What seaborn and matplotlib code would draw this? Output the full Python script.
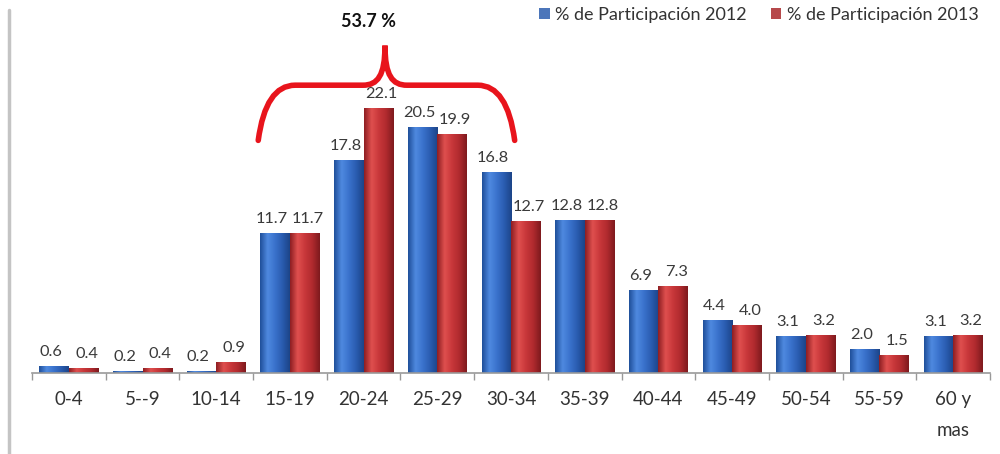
import matplotlib.pyplot as plt
import numpy as np
import seaborn as sns
import pandas as pd
from matplotlib.path import Path
from matplotlib.patches import PathPatch
from matplotlib.colors import LinearSegmentedColormap

grupos = ['0-4', '5--9', '10-14', '15-19', '20-24', '25-29', '30-34',
          '35-39', '40-44', '45-49', '50-54', '55-59', '60 y\nmas']
part_2012 = [0.6, 0.2, 0.2, 11.7, 17.8, 20.5, 16.8, 12.8, 6.9, 4.4, 3.1, 2.0, 3.1]
part_2013 = [0.4, 0.4, 0.9, 11.7, 22.1, 19.9, 12.7, 12.8, 7.3, 4.0, 3.2, 1.5, 3.2]
series = ['% de Participación 2012', '% de Participación 2013']

df = pd.DataFrame({
    'grupo': grupos * 2,
    'valor': part_2012 + part_2013,
    'serie': [series[0]] * len(grupos) + [series[1]] * len(grupos),
})

sns.set_style('white')
plt.rcParams['font.family'] = ['Lato', 'DejaVu Sans']

fig = plt.figure(figsize=(10, 4.54), dpi=100)
ax = fig.add_axes([0.032, 0.178, 0.958, 0.822])

colores = {series[0]: '#3a72cc', series[1]: '#c8373a'}
sns.barplot(data=df, x='grupo', y='valor', hue='serie', palette=colores,
            width=0.8, gap=0, ax=ax, edgecolor='none', linewidth=0)

# degradado horizontal en cada barra (look tipo Excel)
grads = {
    series[0]: ['#1f4f9a', '#4f8ae0', '#3a72cc', '#2a5cb0', '#1c4488'],
    series[1]: ['#8e1e22', '#e0504f', '#c8373a', '#b02a2e', '#7e1a1e'],
}
shift = {series[0]: -2.2, series[1]: 2.2}
for cont, serie in zip(ax.containers, series):
    cmap = LinearSegmentedColormap.from_list(serie, grads[serie])
    grad = np.linspace(0, 1, 64).reshape(1, -1)
    for bar in cont:
        x0, y0 = bar.get_x(), bar.get_y()
        w, h = bar.get_width(), bar.get_height()
        bar.set_facecolor('none')
        im = ax.imshow(grad, extent=[x0, x0 + w, y0, y0 + h], aspect='auto',
                       cmap=cmap, zorder=2, interpolation='bicubic')
        im.set_clip_path(bar)
    anns = ax.bar_label(cont, fmt='%.1f', padding=5, fontsize=11.8, color='#3a3a3a')
    for a in anns:
        a.xyann = (shift[serie], a.xyann[1])

ax.set_xlim(-0.5, 12.5)
ax.set_ylim(0, 31.1)
ax.set_xlabel('')
ax.set_ylabel('')
ax.set_yticks([])
sns.despine(ax=ax, left=True, top=True, right=True)
ax.spines['bottom'].set_color('#999999')
ax.spines['bottom'].set_linewidth(1.2)
ax.set_xticks(np.arange(-0.5, 13, 1), minor=True)
ax.tick_params(axis='x', which='minor', bottom=True, length=5, color='#999999', width=1)
ax.tick_params(axis='x', which='major', bottom=False, labelsize=13.5,
               labelcolor='#333333', pad=9)
for lbl in ax.get_xticklabels():
    lbl.set_verticalalignment('top')
    lbl.set_linespacing(2.0)

ax.legend(loc='upper right', bbox_to_anchor=(1.005, 1.025), ncol=2, frameon=False,
          fontsize=13, handlelength=0.6, handleheight=0.6, handletextpad=0.3,
          columnspacing=1.3, labelcolor='#333333')

# llave roja sobre 15-34
xl, xr, xm = 2.57, 6.05, 4.29
yb, yh, yp = 19.4, 24.0, 27.3
verts = [(xl, yb), (xl + 0.1, yh), (xl + 0.5, yh),
         (xm - 0.3, yh),
         (xm - 0.1, yh), (xm, yh + 0.8), (xm, yp),
         (xm, yh + 0.8), (xm + 0.1, yh), (xm + 0.3, yh),
         (xr - 0.5, yh),
         (xr - 0.1, yh), (xr, yb)]
codes = [Path.MOVETO, Path.CURVE3, Path.CURVE3,
         Path.LINETO,
         Path.CURVE4, Path.CURVE4, Path.CURVE4,
         Path.CURVE4, Path.CURVE4, Path.CURVE4,
         Path.LINETO,
         Path.CURVE3, Path.CURVE3]
ax.add_patch(PathPatch(Path(verts, codes), facecolor='none', edgecolor='#e8141c',
                       lw=4, capstyle='round', zorder=5, clip_on=False))
ax.text(xm - 0.23, 29.3, '53.7 %', ha='center', va='center', fontsize=13,
        fontweight='bold', color='#111111')

# linea vertical gris a la izquierda
fig.add_artist(plt.Line2D([0.009, 0.009], [0.0, 0.978], color='#c4c4c4', lw=2.5))

fig.savefig('out.png', dpi=100)
